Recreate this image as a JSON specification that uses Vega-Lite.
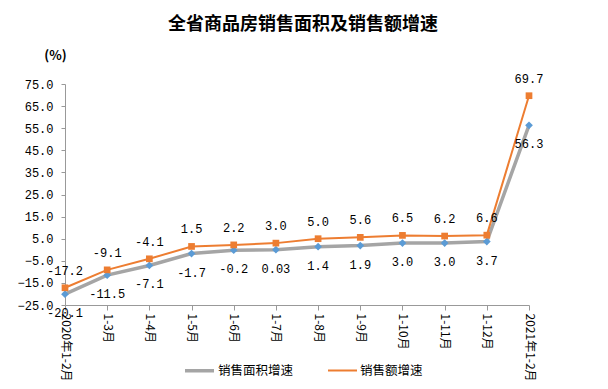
{
  "$schema": "https://vega.github.io/schema/vega-lite/v6.json",
  "width": 464,
  "height": 221,
  "autosize": "none",
  "padding": {"left": 65, "top": 84, "right": 79, "bottom": 84},
  "background": "white",
  "title": {"text": "全省商品房销售面积及销售额增速", "font": "Noto Sans CJK SC", "fontSize": 18, "fontWeight": "bold", "anchor": "middle", "offset": 15, "dx": 6, "color": "black"},
  "config": {"view": {"stroke": null}},
  "data": {"values": [
    {"month": "2020年1-2月", "series": "销售面积增速", "value": -20.1, "label": "-20.1"},
    {"month": "1-3月", "series": "销售面积增速", "value": -11.5, "label": "-11.5"},
    {"month": "1-4月", "series": "销售面积增速", "value": -7.1, "label": "-7.1"},
    {"month": "1-5月", "series": "销售面积增速", "value": -1.7, "label": "-1.7"},
    {"month": "1-6月", "series": "销售面积增速", "value": -0.2, "label": "-0.2"},
    {"month": "1-7月", "series": "销售面积增速", "value": 0.03, "label": "0.03"},
    {"month": "1-8月", "series": "销售面积增速", "value": 1.4, "label": "1.4"},
    {"month": "1-9月", "series": "销售面积增速", "value": 1.9, "label": "1.9"},
    {"month": "1-10月", "series": "销售面积增速", "value": 3.0, "label": "3.0"},
    {"month": "1-11月", "series": "销售面积增速", "value": 3.0, "label": "3.0"},
    {"month": "1-12月", "series": "销售面积增速", "value": 3.7, "label": "3.7"},
    {"month": "2021年1-2月", "series": "销售面积增速", "value": 56.3, "label": "56.3"},
    {"month": "2020年1-2月", "series": "销售额增速", "value": -17.2, "label": "-17.2"},
    {"month": "1-3月", "series": "销售额增速", "value": -9.1, "label": "-9.1"},
    {"month": "1-4月", "series": "销售额增速", "value": -4.1, "label": "-4.1"},
    {"month": "1-5月", "series": "销售额增速", "value": 1.5, "label": "1.5"},
    {"month": "1-6月", "series": "销售额增速", "value": 2.2, "label": "2.2"},
    {"month": "1-7月", "series": "销售额增速", "value": 3.0, "label": "3.0"},
    {"month": "1-8月", "series": "销售额增速", "value": 5.0, "label": "5.0"},
    {"month": "1-9月", "series": "销售额增速", "value": 5.6, "label": "5.6"},
    {"month": "1-10月", "series": "销售额增速", "value": 6.5, "label": "6.5"},
    {"month": "1-11月", "series": "销售额增速", "value": 6.2, "label": "6.2"},
    {"month": "1-12月", "series": "销售额增速", "value": 6.6, "label": "6.6"},
    {"month": "2021年1-2月", "series": "销售额增速", "value": 69.7, "label": "69.7"}
  ]},
  "encoding": {
    "x": {"field": "month", "type": "nominal", "sort": null, "scale": {"type": "point", "padding": 0},
      "axis": {"title": null, "labelAngle": 90, "labelFont": "Noto Sans CJK SC", "labelFontSize": 12, "labelColor": "black", "labelPadding": 3, "labelOverlap": false, "domainColor": "#999", "tickColor": "#999", "tickSize": 5, "grid": false}},
    "y": {"field": "value", "type": "quantitative", "scale": {"domain": [-25, 75], "nice": false, "zero": false},
      "axis": {"title": "(%)", "titleAngle": 0, "titleX": -10, "titleY": -29, "titleAlign": "center", "titleBaseline": "middle", "titleFont": "Noto Sans CJK SC", "titleFontSize": 13, "titleFontWeight": "bold", "titleColor": "black",
        "values": [-25, -15, -5, 5, 15, 25, 35, 45, 55, 65, 75], "format": ".1f", "labelFont": "Liberation Mono", "labelFontSize": 12, "labelColor": "black", "labelPadding": 8, "grid": false, "domainColor": "#999", "tickColor": "#999", "tickSize": 4}}
  },
  "layer": [
    {
      "mark": {"type": "line"},
      "encoding": {
        "color": {"field": "series", "type": "nominal", "scale": {"domain": ["销售面积增速", "销售额增速"], "range": ["#A5A5A5", "#ED7D31"]},
          "legend": {"title": null, "orient": "none", "legendX": 118, "legendY": 270, "direction": "horizontal", "symbolType": "stroke", "symbolSize": 841, "symbolStrokeWidth": 3, "labelFont": "Noto Sans CJK SC", "labelFontSize": 12.5, "labelColor": "black", "labelOffset": 2, "columnPadding": 30}},
        "strokeWidth": {"field": "series", "type": "nominal", "scale": {"domain": ["销售面积增速", "销售额增速"], "range": [3.5, 2]}, "legend": null}
      }
    },
    {
      "transform": [{"filter": "datum.series === '销售面积增速'"}],
      "mark": {"type": "point", "filled": true, "opacity": 1, "size": 60, "shape": "diamond", "color": "#5B9BD5"}
    },
    {
      "transform": [{"filter": "datum.series === '销售额增速'"}],
      "mark": {"type": "point", "filled": true, "opacity": 1, "size": 45, "shape": "square", "color": "#ED7D31"}
    },
    {
      "transform": [{"filter": "datum.series === '销售面积增速'"}],
      "mark": {"type": "text", "dy": 19, "font": "Liberation Mono", "fontSize": 12, "color": "black"},
      "encoding": {"text": {"field": "label"}}
    },
    {
      "transform": [{"filter": "datum.series === '销售额增速'"}],
      "mark": {"type": "text", "dy": -17, "font": "Liberation Mono", "fontSize": 12, "color": "black"},
      "encoding": {"text": {"field": "label"}}
    }
  ]
}
